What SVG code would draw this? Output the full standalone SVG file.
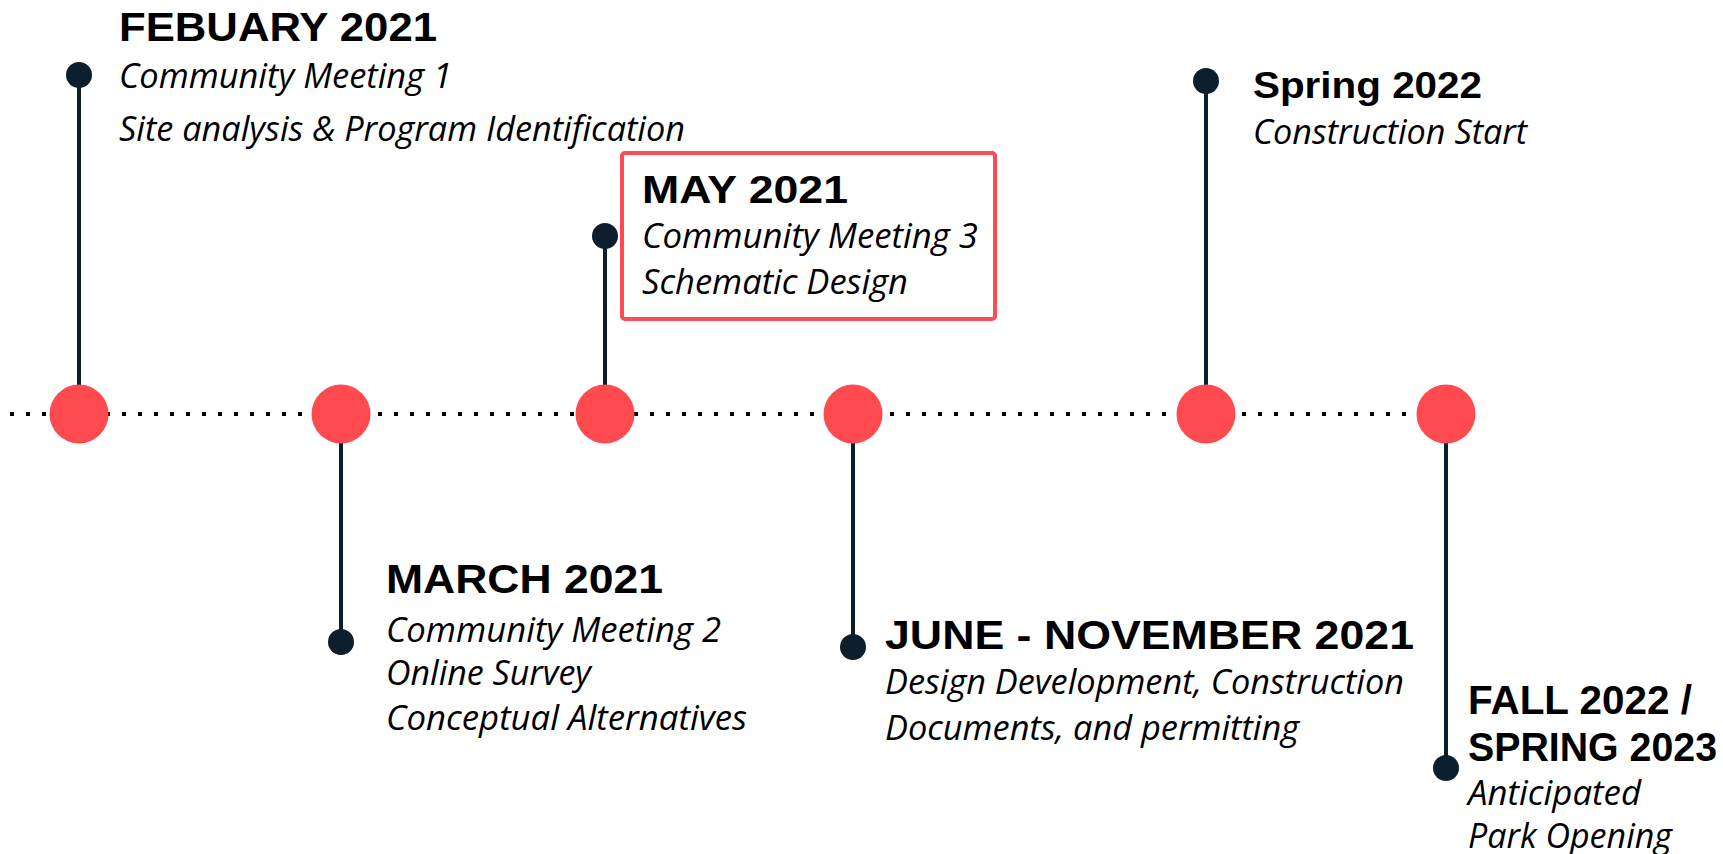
<svg xmlns="http://www.w3.org/2000/svg" width="1723" height="854" viewBox="0 0 1723 854">
<style>
.hd{font-family:"Liberation Sans",Arial,sans-serif;font-weight:700;fill:#000}
.it{font-family:"Open Sans","Noto Sans",sans-serif;font-style:italic;font-size:35px;fill:#000}
.big{fill:#ff4a4f}
.dot{fill:#0d1f2d}
.stem{stroke:#0d1f2d;stroke-width:4;fill:none}
</style>
<rect width="1723" height="854" fill="#fff"/>
<g id="connectors">
  <line x1="10" y1="414" x2="1414" y2="414" stroke="#000" stroke-width="4" stroke-dasharray="4 12"/>
  <line class="stem" x1="79" y1="75" x2="79" y2="414"/>
  <line class="stem" x1="341" y1="414" x2="341" y2="642"/>
  <line class="stem" x1="605" y1="236" x2="605" y2="414"/>
  <line class="stem" x1="853" y1="414" x2="853" y2="647"/>
  <line class="stem" x1="1206" y1="81" x2="1206" y2="414"/>
  <line class="stem" x1="1446" y1="414" x2="1446" y2="768"/>
</g>
<g id="node-feb">
  <circle class="big" cx="79" cy="414" r="29.5"/>
  <circle class="dot" cx="79" cy="75" r="13"/>
  <text class="hd" x="119" y="41" font-size="41" textLength="318" lengthAdjust="spacingAndGlyphs">FEBUARY 2021</text>
  <text class="it" x="119" y="88" textLength="333" lengthAdjust="spacingAndGlyphs">Community Meeting 1</text>
  <text class="it" x="119" y="141" textLength="566" lengthAdjust="spacingAndGlyphs">Site analysis &amp; Program Identification</text>
</g>
<g id="node-mar">
  <circle class="big" cx="341" cy="414" r="29.5"/>
  <circle class="dot" cx="341" cy="642" r="13"/>
  <text class="hd" x="386" y="593" font-size="41.5" textLength="277" lengthAdjust="spacingAndGlyphs">MARCH 2021</text>
  <text class="it" x="386" y="642" textLength="335" lengthAdjust="spacingAndGlyphs">Community Meeting 2</text>
  <text class="it" x="386" y="685" textLength="205" lengthAdjust="spacingAndGlyphs">Online Survey</text>
  <text class="it" x="386" y="730" textLength="361" lengthAdjust="spacingAndGlyphs">Conceptual Alternatives</text>
</g>
<g id="node-may">
  <circle class="big" cx="605" cy="414" r="29.5"/>
  <rect x="622" y="153" width="373" height="166" rx="3" fill="none" stroke="#ff4a4f" stroke-width="4"/>
  <circle class="dot" cx="605" cy="236" r="13"/>
  <text class="hd" x="642" y="203" font-size="39.5" textLength="206" lengthAdjust="spacingAndGlyphs">MAY 2021</text>
  <text class="it" x="642" y="248" textLength="336" lengthAdjust="spacingAndGlyphs">Community Meeting 3</text>
  <text class="it" x="642" y="294" textLength="266" lengthAdjust="spacingAndGlyphs">Schematic Design</text>
</g>
<g id="node-jun">
  <circle class="big" cx="853" cy="414" r="29.5"/>
  <circle class="dot" cx="853" cy="647" r="13"/>
  <text class="hd" x="885" y="649" font-size="41" textLength="529" lengthAdjust="spacingAndGlyphs">JUNE - NOVEMBER 2021</text>
  <text class="it" x="885" y="694" textLength="519" lengthAdjust="spacingAndGlyphs">Design Development, Construction</text>
  <text class="it" x="885" y="740" textLength="414" lengthAdjust="spacingAndGlyphs">Documents, and permitting</text>
</g>
<g id="node-spr22">
  <circle class="big" cx="1206" cy="414" r="29.5"/>
  <circle class="dot" cx="1206" cy="81" r="13"/>
  <text class="hd" x="1253" y="98" font-size="36" textLength="229" lengthAdjust="spacingAndGlyphs">Spring 2022</text>
  <text class="it" x="1253" y="144" textLength="274" lengthAdjust="spacingAndGlyphs">Construction Start</text>
</g>
<g id="node-fall">
  <circle class="big" cx="1446" cy="414" r="29.5"/>
  <circle class="dot" cx="1446" cy="768" r="13"/>
  <text class="hd" x="1468" y="714" font-size="40" textLength="224" lengthAdjust="spacingAndGlyphs">FALL 2022 /</text>
  <text class="hd" x="1468" y="761" font-size="40" textLength="249" lengthAdjust="spacingAndGlyphs">SPRING 2023</text>
  <text class="it" x="1468" y="805" textLength="173" lengthAdjust="spacingAndGlyphs">Anticipated</text>
  <text class="it" x="1468" y="848" textLength="204" lengthAdjust="spacingAndGlyphs">Park Opening</text>
</g>
</svg>
